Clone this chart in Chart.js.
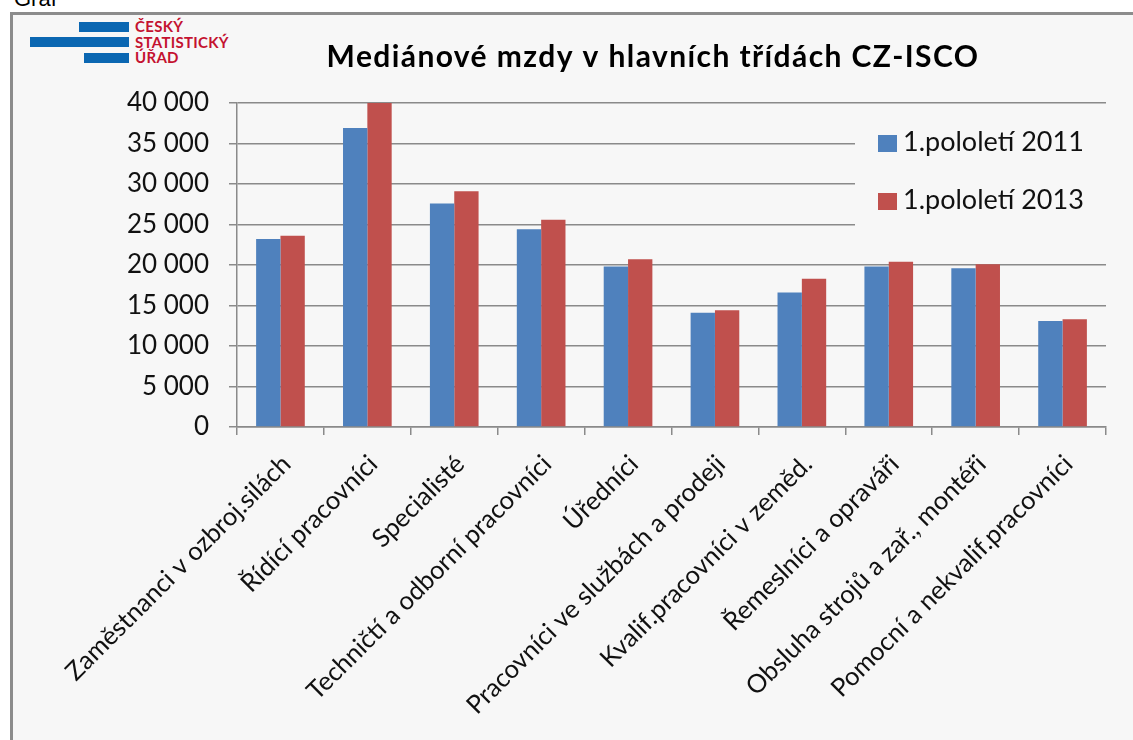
<!DOCTYPE html>
<html>
<head>
<meta charset="utf-8">
<script src="https://cdn.jsdelivr.net/npm/chart.js@4"></script>
<style>
  html, body { margin: 0; padding: 0; background: #fff; }
  body { width: 1133px; height: 740px; position: relative; overflow: hidden; font-family: Lato, sans-serif; }
  #nadpis { position: absolute; left: 14px; top: -14px; font: 22px Arial, sans-serif; color: #000; }
  #ramec { position: absolute; left: 10px; top: 12px; width: 1140px; height: 760px;
           border-left: 3px solid #8c8c8c; border-top: 3px solid #8c8c8c; background: #f7f7f7; }
  .pruh { position: absolute; background: #0b67b2; height: 10px; }
  .logo { position: absolute; left: 135px; font: bold 15px Lato, sans-serif; color: #c41230; line-height: 15.5px; letter-spacing: 0.3px; }
  canvas { position: absolute; left: 0; top: 0; }
</style>
</head>
<body>
<div id="nadpis">Graf</div>
<div id="ramec"></div>
<!-- logo CSU -->
<div class="pruh" style="left:79px; top:22px; width:50px;"></div>
<div class="pruh" style="left:30px; top:37px; width:99px;"></div>
<div class="pruh" style="left:84px; top:53px; width:45px;"></div>
<div class="logo" style="top:19px;">ČESKÝ<br>STATISTICKÝ<br>ÚŘAD</div>
<canvas id="graf" width="1133" height="740"></canvas>
<script>
  // Data
  const kategorie = [
    'Zaměstnanci v ozbroj.silách',
    'Řídící pracovníci',
    'Specialisté',
    'Techničtí a odborní pracovníci',
    'Úředníci',
    'Pracovníci ve službách a prodeji',
    'Kvalif.pracovníci v zeměd.',
    'Řemeslníci a opraváři',
    'Obsluha strojů a zař., montéři',
    'Pomocní a nekvalif.pracovníci'
  ];
  const pololeti2011 = [23200, 36900, 27600, 24400, 19800, 14100, 16600, 19800, 19600, 13100];
  const pololeti2013 = [23600, 40000, 29100, 25600, 20700, 14400, 18300, 20400, 20100, 13300];
  const popisky = ['1.pololetí 2011', '1.pololetí 2013'];
  const nazev = 'Mediánové mzdy v hlavních třídách CZ-ISCO';

  const barvaMrizky = '#8a8a8a';

  // Nazev grafu a legenda uvnitr plochy grafu
  const vlastniLegenda = {
    id: 'vlastniLegenda',
    beforeDatasetsDraw(chart) {
      const ctx = chart.ctx;
      const area = chart.chartArea;
      ctx.save();
      // pozadi legendy zakryje mrizku
      ctx.fillStyle = '#f7f7f7';
      ctx.fillRect(855, area.top + 8, area.right - 855 + 1, 125);
      chart.data.datasets.forEach(function (ds, i) {
        const y = 135 + i * 58;
        ctx.fillStyle = ds.backgroundColor;
        ctx.fillRect(878, y, 19, 17);
        ctx.fillStyle = '#111';
        ctx.font = '27px Lato';
        ctx.textBaseline = 'alphabetic';
        ctx.textAlign = 'left';
        ctx.fillText(ds.label, 903, y + 16);
      });
      ctx.restore();
    },
    afterDraw(chart) {
      const ctx = chart.ctx;
      ctx.save();
      ctx.fillStyle = '#000';
      ctx.font = 'bold 30px Lato';
      ctx.letterSpacing = '1.4px';
      ctx.textAlign = 'center';
      ctx.textBaseline = 'alphabetic';
      ctx.fillText(nazev, 653, 67);
      ctx.restore();
    }
  };

  function formatCisla(v) {
    return String(v).replace(/\B(?=(\d{3})+(?!\d))/g, ' ');
  }

  const ctx = document.getElementById('graf').getContext('2d');
  const graf = new Chart(ctx, {
    type: 'bar',
    data: {
      labels: kategorie,
      datasets: [{
        label: popisky[0],
        data: pololeti2011,
        backgroundColor: '#4f81bd',
        categoryPercentage: 0.56,
        barPercentage: 1
      }, {
        label: popisky[1],
        data: pololeti2013,
        backgroundColor: '#c0504d',
        categoryPercentage: 0.56,
        barPercentage: 1
      }]
    },
    options: {
      responsive: false,
      animation: false,
      layout: { padding: { top: 103, right: 27, left: 0, bottom: 0 } },
      plugins: {
        legend: { display: false },
        title: { display: false },
        tooltip: { enabled: false }
      },
      scales: {
        x: {
          grid: {
            offset: true,
            drawOnChartArea: false,
            drawTicks: true,
            tickLength: 8,
            color: barvaMrizky,
            lineWidth: 1.5
          },
          border: { color: barvaMrizky, width: 1.5 },
          ticks: {
            autoSkip: false,
            minRotation: 45,
            maxRotation: 45,
            labelOffset: 6,
            padding: 14,
            color: '#111',
            font: { family: 'Lato', size: 25.5 }
          },
          afterFit(scale) { scale.height = 313; }
        },
        y: {
          min: 0,
          max: 40000,
          ticks: {
            stepSize: 5000,
            padding: 20,
            color: '#111',
            font: { family: 'Lato', size: 26 },
            callback: function (v) { return formatCisla(v); }
          },
          grid: {
            color: barvaMrizky,
            lineWidth: 1.5,
            tickLength: 8
          },
          border: { color: barvaMrizky, width: 1.5 },
          afterFit(scale) { scale.width = 237; }
        }
      }
    },
    plugins: [vlastniLegenda]
  });
</script>
</body>
</html>
